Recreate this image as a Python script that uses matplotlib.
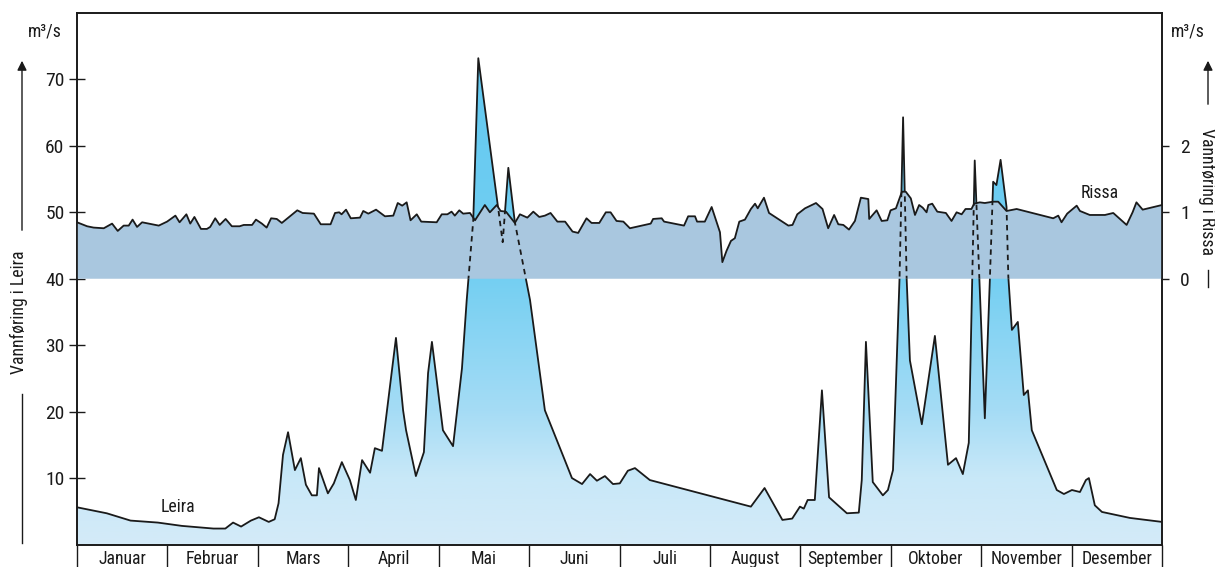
import numpy as np
import matplotlib.pyplot as plt
from matplotlib.colors import LinearSegmentedColormap
from matplotlib.patches import Polygon, FancyArrowPatch
from matplotlib.lines import Line2D

plt.rcParams['font.family'] = ['Roboto Condensed', 'Lato', 'DejaVu Sans']

months = ['Januar', 'Februar', 'Mars', 'April', 'Mai', 'Juni', 'Juli',
          'August', 'September', 'Oktober', 'November', 'Desember']

# Leira, left axis (m3/s), x = day of year
leira_day = [0, 10.0, 18.0, 27.2, 35.3, 45.9, 49.9, 52.5, 55.2, 58.5,
             61.2, 64.5, 66.5, 67.8, 69.3, 71.0, 73.3, 75.3, 77.0, 79.0,
             80.7, 81.4, 84.4, 86.4, 89.1, 91.8, 93.8, 95.9, 98.6, 100.2,
             102.6, 107.3, 109.7, 110.7, 114.0, 116.7, 118.1, 119.4, 120.8, 123.1,
             126.5, 129.5, 131.1, 133.3, 135.0, 143.2, 145.1, 147.3, 152.4, 157.4,
             164.1, 166.5, 169.9, 172.6, 174.9, 177.6, 180.3, 182.6, 185.3, 187.7,
             192.7, 226.7, 231.3, 237.3, 240.6, 243.2, 244.5, 245.8, 248.2, 250.6,
             253.0, 259.0, 263.0, 264.0, 265.4, 267.7, 271.1, 272.8, 274.5, 276.7,
             277.9, 279.1, 280.2, 284.2, 288.6, 293.0, 295.7, 298.0, 300.0, 302.0,
             305.4, 307.1, 308.2, 309.3, 310.7, 312.7, 313.3, 314.5, 316.5, 318.5,
             319.9, 321.2, 329.6, 332.0, 334.7, 337.4, 339.4, 340.4, 342.4, 344.8,
             354.2, 365]
leira_flow = [5.6, 4.7, 3.6, 3.3, 2.8, 2.4, 2.4, 3.3, 2.7, 3.6,
              4.1, 3.4, 3.8, 6.2, 13.5, 16.9, 11.2, 13.0, 9.0, 7.4,
              7.4, 11.5, 7.7, 9.2, 12.4, 9.7, 6.7, 12.7, 10.8, 14.5,
              14.1, 31.1, 20.2, 17.2, 10.3, 13.9, 25.8, 30.5, 25.5, 17.2,
              14.8, 26.5, 36.8, 48.8, 73.2, 45.5, 56.7, 48.5, 36.8, 20.2,
              12.7, 10.0, 9.1, 10.6, 9.6, 10.3, 9.1, 9.2, 11.1, 11.5,
              9.7, 5.7, 8.5, 3.7, 3.9, 5.7, 5.4, 6.7, 6.7, 23.2,
              7.1, 4.7, 4.8, 9.7, 30.5, 9.4, 7.4, 8.2, 11.2, 40.0,
              64.3, 40.0, 27.7, 18.1, 31.4, 12.0, 13.0, 10.6, 15.3, 57.8,
              19.0, 40.0, 54.6, 54.1, 57.9, 50.8, 40.3, 32.3, 33.5, 22.5,
              23.2, 17.2, 8.2, 7.6, 8.2, 7.9, 9.7, 10.0, 5.9, 4.9,
              4.0, 3.4]

# Rissa, right axis (m3/s)
rissa_day = [0, 3.4, 5.6, 9.0, 11.8, 13.7, 15.7, 17.4, 18.7, 20.2,
             21.9, 24.1, 27.5, 30.3, 33.1, 34.5, 36.8, 38.1, 39.5, 41.7,
             43.7, 44.8, 46.5, 48.0, 50.0, 52.1, 54.7, 56.1, 58.9, 60.2,
             62.2, 63.8, 65.3, 67.2, 68.9, 74.1, 75.9, 79.7, 82.0, 85.3,
             86.8, 88.2, 89.0, 90.5, 92.1, 95.2, 96.3, 98.0, 100.6, 103.6,
             106.4, 107.9, 109.4, 110.9, 112.2, 114.3, 115.8, 121.0, 122.7, 124.6,
             126.0, 127.1, 128.6, 129.9, 132.2, 133.9, 137.2, 138.9, 141.2, 142.5,
             144.3, 147.3, 149.0, 151.5, 153.5, 155.5, 157.4, 159.3, 161.6, 164.2,
             166.7, 168.6, 171.4, 173.1, 175.7, 177.9, 179.5, 181.5, 183.8, 186.0,
             193.0, 193.8, 196.7, 197.5, 204.2, 205.6, 207.9, 208.6, 211.2, 213.5,
             215.4, 216.3, 217.1, 218.5, 220.0, 221.3, 222.8, 224.7, 226.7, 228.1,
             229.0, 231.1, 232.8, 239.3, 240.7, 242.3, 244.9, 248.6, 250.8, 252.7,
             254.7, 256.1, 257.8, 259.7, 261.7, 263.7, 266.2, 266.5, 269.0, 270.7,
             272.6, 273.7, 275.5, 277.5, 278.8, 280.5, 281.9, 283.3, 284.5, 285.8,
             286.4, 287.7, 289.4, 292.3, 294.2, 295.9, 297.6, 298.9, 300.9, 301.8,
             303.7, 305.4, 308.2, 309.9, 312.7, 316.1, 328.4, 330.1, 331.2, 333.1,
             336.3, 337.4, 340.7, 345.8, 348.6, 353.1, 355.1, 356.4, 358.5, 365]
rissa_flow = [0.85, 0.79, 0.77, 0.76, 0.83, 0.72, 0.80, 0.80, 0.89, 0.78,
              0.85, 0.83, 0.80, 0.86, 0.95, 0.85, 0.97, 0.83, 0.93, 0.75,
              0.75, 0.78, 0.91, 0.81, 0.90, 0.79, 0.79, 0.81, 0.81, 0.89,
              0.83, 0.77, 0.91, 0.90, 0.84, 1.03, 0.99, 0.98, 0.82, 0.82,
              0.99, 1.00, 0.97, 1.04, 0.91, 0.92, 1.02, 0.98, 1.04, 0.94,
              0.95, 1.14, 1.10, 1.15, 0.88, 0.97, 0.86, 0.85, 0.97, 0.97,
              1.01, 0.95, 1.03, 0.98, 0.99, 0.88, 1.11, 1.00, 1.11, 1.02,
              1.01, 0.84, 0.97, 0.92, 1.01, 0.93, 0.95, 0.99, 0.86, 0.86,
              0.71, 0.69, 0.91, 0.84, 0.84, 1.00, 1.00, 0.87, 0.86, 0.76,
              0.83, 0.90, 0.91, 0.86, 0.80, 0.94, 0.94, 0.86, 0.86, 1.08,
              0.82, 0.70, 0.25, 0.42, 0.57, 0.61, 0.86, 0.89, 1.05, 1.13,
              1.06, 1.22, 0.99, 0.80, 0.81, 0.97, 1.06, 1.14, 1.05, 0.76,
              0.96, 0.82, 0.81, 0.74, 0.87, 1.22, 1.20, 0.90, 1.03, 0.87,
              0.88, 1.03, 1.06, 1.31, 1.31, 1.21, 0.96, 1.11, 1.07, 1.00,
              1.11, 1.13, 1.01, 0.99, 0.87, 1.00, 0.97, 1.05, 1.05, 1.13,
              1.15, 1.14, 1.16, 1.16, 1.02, 1.05, 0.91, 0.95, 0.85, 0.98,
              1.10, 1.02, 0.96, 0.96, 0.99, 0.81, 1.00, 1.15, 1.04, 1.11]

ink = '#1a1a1a'
W, H = 1215, 567
fs = 12.8

fig = plt.figure(figsize=(12.15, 5.67), dpi=100)
ax = fig.add_axes([77 / W, 22.5 / H, 1085 / W, 531.5 / H])

# Leira: gradient fill clipped to the area under the curve
cmap = LinearSegmentedColormap.from_list(
    'leira', [(0, '#d4ebf8'), (0.125, '#c8e8f8'), (0.25, '#a5dcf5'),
              (0.5, '#74cff2'), (1, '#5ec7f0')])
grad = np.linspace(0, 1, 256).reshape(-1, 1)
im = ax.imshow(grad, extent=[0, 365, 0, 80], origin='lower', aspect='auto',
               cmap=cmap, zorder=1)
verts = list(zip(leira_day, leira_flow)) + [(leira_day[-1], 0), (leira_day[0], 0)]
leira_patch = Polygon(verts, closed=True, fc='none', ec='none')
ax.add_patch(leira_patch)
im.set_clip_path(leira_patch)
ax.plot(leira_day, leira_flow, color=ink, lw=1.3, zorder=2)
ax.set_xlim(0, 365)
ax.set_ylim(0, 80)

# Rissa on its own scale (0 at Leira 40, 1 unit = 10)
ax2 = ax.twinx()
ax2.set_ylim(-4, 4)
rverts = list(zip(rissa_day, rissa_flow)) + [(rissa_day[-1], 0), (rissa_day[0], 0)]
rissa_patch = Polygon(rverts, closed=True, fc='#a9c7df', ec='none', zorder=1)
ax2.add_patch(rissa_patch)
ax2.plot(rissa_day, rissa_flow, color=ink, lw=1.3, zorder=3)

# Leira outline shown dashed where it runs behind the Rissa band
dashed = Line2D(leira_day, leira_flow, transform=ax.transData, color=ink,
                lw=1.3, ls=(0, (3, 2.5)), zorder=2)
ax2.add_line(dashed)
dashed.set_clip_path(rissa_patch)
ax2.set_ylim(-4, 4)
ax2.set_xlim(0, 365)

# axes styling
for a in (ax, ax2):
    for s in a.spines.values():
        s.set_linewidth(1.2)
        s.set_color(ink)

ax.set_yticks(range(10, 80, 10))
ax.tick_params(axis='y', direction='inout', length=12, width=1, labelsize=14,
               pad=3, colors=ink)
bounds = np.linspace(0, 365, 13)
ax.set_xticks(bounds)
ax.set_xticklabels([])
ax.tick_params(axis='x', which='major', direction='out', length=17, width=1,
               colors=ink)
ax.set_xticks((bounds[:-1] + bounds[1:]) / 2, minor=True)
ax.set_xticklabels(months, minor=True, fontsize=fs)
ax.tick_params(axis='x', which='minor', length=0, pad=4, colors=ink)

ax2.set_yticks([0, 1, 2])
ax2.tick_params(axis='y', direction='out', length=5, width=1, labelsize=14,
                pad=8, colors=ink)

ax.text(34, 5.6, 'Leira', ha='center', va='center', fontsize=fs, color=ink, zorder=5)
ax2.text(344, 1.29, 'Rissa', ha='center', va='center', fontsize=fs, color=ink, zorder=5)

# unit labels and axis titles with arrows
fig.text(45 / W, 1 - 32 / H, 'm³/s', ha='center', va='center', fontsize=fs, color=ink)
fig.text(1188 / W, 1 - 32 / H, 'm³/s', ha='center', va='center', fontsize=fs, color=ink)

fig.add_artist(FancyArrowPatch((22 / W, 1 - 233 / H), (22 / W, 1 - 58 / H),
                               transform=fig.transFigure, arrowstyle='-|>',
                               mutation_scale=14, lw=1, color=ink))
fig.add_artist(Line2D([22 / W, 22 / W], [1 - 394 / H, 1 - 543 / H],
                      transform=fig.transFigure, lw=1, color=ink))
fig.text(19 / W, 1 - 312 / H, 'Vannføring i Leira', rotation=90, ha='center',
         va='center', fontsize=fs, color=ink)

fig.add_artist(FancyArrowPatch((1208 / W, 1 - 107 / H), (1208 / W, 1 - 58 / H),
                               transform=fig.transFigure, arrowstyle='-|>',
                               mutation_scale=14, lw=1, color=ink))
fig.add_artist(Line2D([1208 / W, 1208 / W], [1 - 270 / H, 1 - 287 / H],
                      transform=fig.transFigure, lw=1, color=ink))
fig.text(1207 / W, 1 - 191 / H, 'Vannføring i Rissa', rotation=270, ha='center',
         va='center', fontsize=fs, color=ink)

fig.savefig('out.png', dpi=100)
